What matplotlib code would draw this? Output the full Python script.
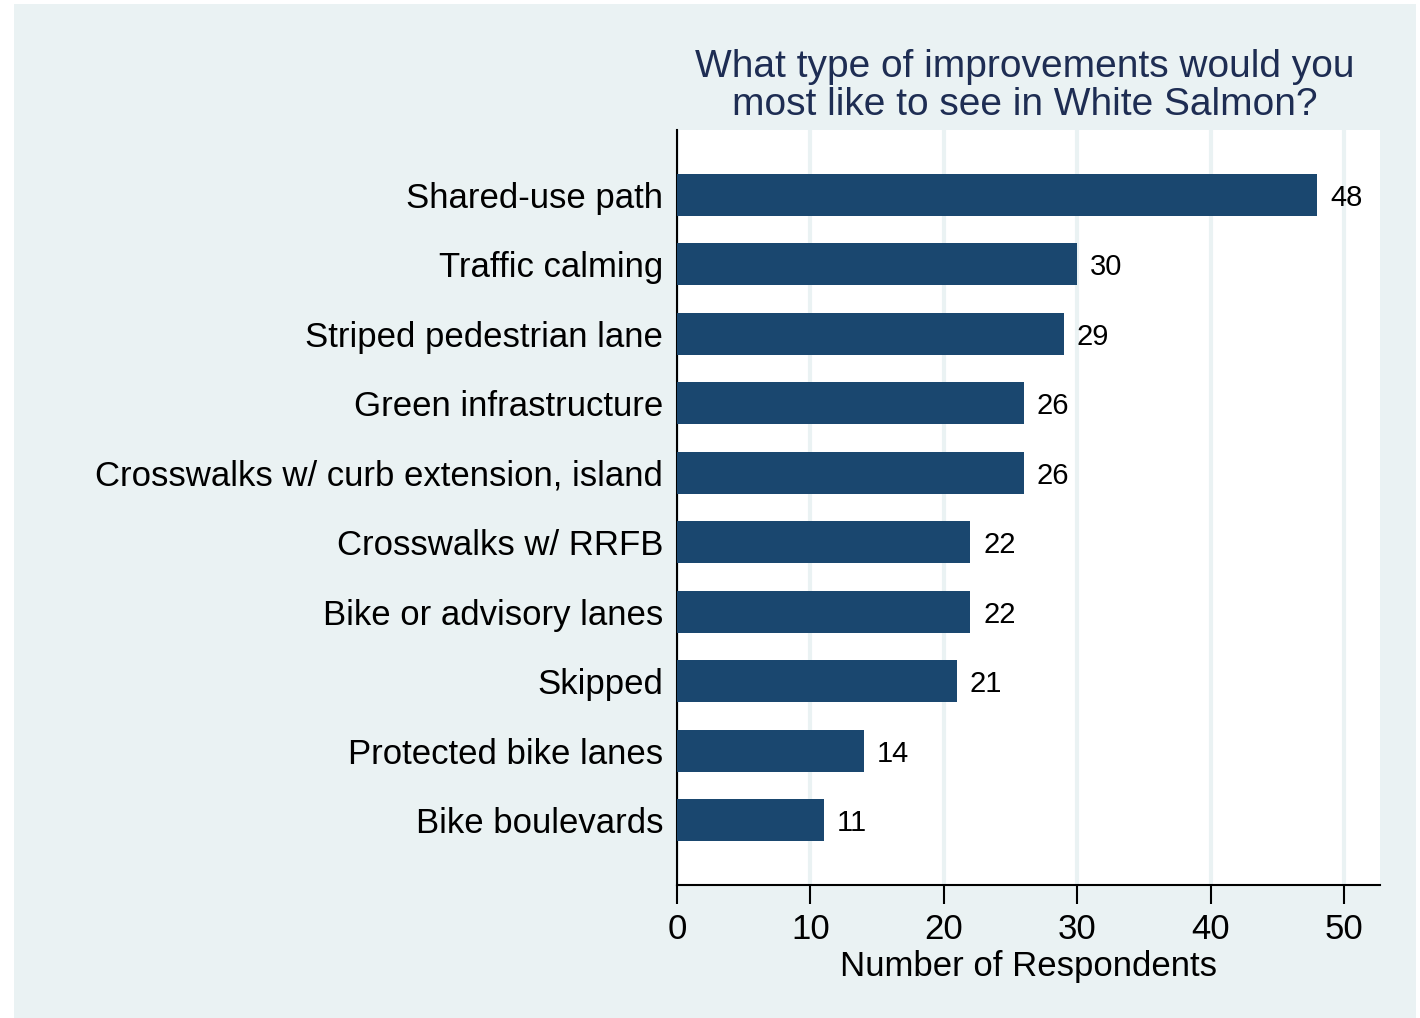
import matplotlib.pyplot as plt
from matplotlib.patches import Rectangle

plt.rcParams['font.family'] = ['Liberation Sans', 'DejaVu Sans']

# Survey responses
categories = [
    "Shared-use path",
    "Traffic calming",
    "Striped pedestrian lane",
    "Green infrastructure",
    "Crosswalks w/ curb extension, island",
    "Crosswalks w/ RRFB",
    "Bike or advisory lanes",
    "Skipped",
    "Protected bike lanes",
    "Bike boulevards",
]
counts = [48, 30, 29, 26, 26, 22, 22, 21, 14, 11]
x_ticks = [0, 10, 20, 30, 40, 50]

bar_color = "#1A476F"
panel_color = "#EAF2F3"
W, H = 1420, 1018

fig = plt.figure(figsize=(W / 100, H / 100), dpi=100, facecolor="white")

# Light panel behind the whole graph
fig.patches.append(Rectangle((14 / W, 0), (1416 - 14) / W, (1018 - 4) / H,
                             transform=fig.transFigure, facecolor=panel_color,
                             edgecolor="none", zorder=-10))

ax = fig.add_axes([677 / W, 1 - 885 / H, (1380 - 677) / W, (885 - 130) / H])
ax.set_facecolor("white")

y_pos = list(range(len(categories)))
ax.barh(y_pos, counts, height=0.6, color=bar_color, zorder=3)
ax.set_ylim(len(categories) - 1 + 0.93, -0.93)
ax.set_xlim(0, 52.7)

# Value labels
for y, c in zip(y_pos, counts):
    ax.text(c + 0.95, y, str(c), va="center_baseline", ha="left", fontsize=21, color="black")

ax.set_yticks(y_pos)
ax.set_yticklabels(categories, fontsize=25)
ax.tick_params(axis="y", length=0, pad=10)
ax.set_xticks(x_ticks)
ax.set_xticklabels([str(t) for t in x_ticks], fontsize=25)
ax.tick_params(axis="x", length=14, width=1.5, pad=6)

ax.grid(axis="x", color=panel_color, linewidth=3, zorder=1)
ax.set_axisbelow(True)
for s in ["top", "right"]:
    ax.spines[s].set_visible(False)
for s in ["left", "bottom"]:
    ax.spines[s].set_linewidth(1.5)

ax.set_xlabel("Number of Respondents", fontsize=25, labelpad=3)

fig.text(1025 / W, 1 - 86 / H, "What type of improvements would you\nmost like to see in White Salmon?",
         ha="center", va="center", fontsize=28, color="#1E2D53", linespacing=1.06)

fig.savefig("out.png", dpi=100, facecolor="white")
